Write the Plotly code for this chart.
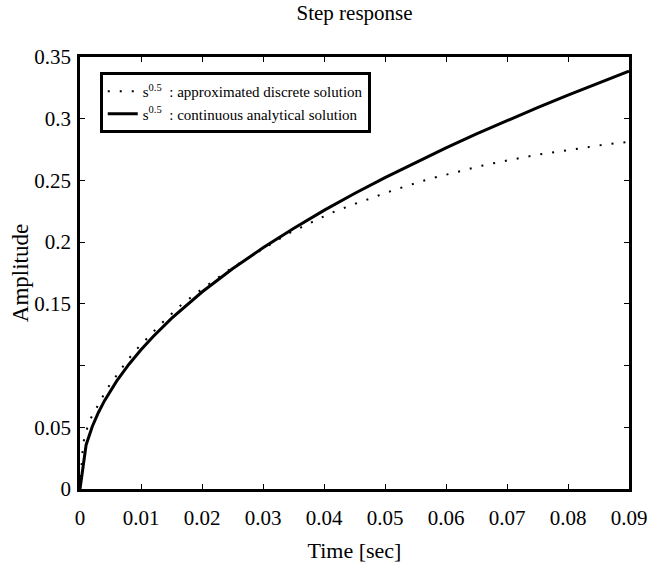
import plotly.graph_objects as go

# Continuous analytical solution
t_cont = [0, 0.001, 0.002, 0.003, 0.004, 0.005, 0.006, 0.008, 0.010, 0.012, 0.015,
          0.020, 0.025, 0.030, 0.035, 0.040, 0.045, 0.050, 0.055, 0.060, 0.065,
          0.070, 0.075, 0.080, 0.085, 0.090]
y_cont = [0, 0.0357, 0.0505, 0.0618, 0.0714, 0.0798, 0.0874, 0.1009, 0.1128, 0.1236, 0.1382,
          0.1596, 0.1784, 0.1954, 0.2111, 0.2257, 0.2394, 0.2523, 0.2646, 0.2764, 0.2877,
          0.2985, 0.3090, 0.3192, 0.3290, 0.3385]

# Approximated discrete solution
t_disc = [0, 0.0005, 0.001, 0.0016, 0.0025, 0.0034, 0.0044, 0.006, 0.0075, 0.0091, 0.0105,
          0.0119, 0.0132, 0.0147, 0.0162, 0.0177, 0.020, 0.025, 0.0322, 0.034, 0.0358,
          0.0375, 0.0393, 0.041, 0.0429, 0.0448, 0.0466, 0.0484, 0.0503, 0.0522, 0.0541,
          0.056, 0.0579, 0.0598, 0.0617, 0.0637, 0.0656, 0.0675, 0.0693, 0.0751, 0.0809,
          0.0868, 0.090]
y_disc = [0, 0.0367, 0.0465, 0.0556, 0.0637, 0.0724, 0.081, 0.092, 0.1025, 0.1123, 0.1196,
          0.1264, 0.1334, 0.1404, 0.1475, 0.1534, 0.1620, 0.1795, 0.2015, 0.2066, 0.2109,
          0.2152, 0.2192, 0.2233, 0.2271, 0.2306, 0.2336, 0.2370, 0.2402, 0.2434, 0.2465,
          0.2493, 0.2520, 0.2545, 0.2569, 0.2593, 0.2616, 0.2636, 0.2655, 0.2709, 0.2755,
          0.2796, 0.2812]

x_ticks = [0, 0.01, 0.02, 0.03, 0.04, 0.05, 0.06, 0.07, 0.08, 0.09]
x_labels = ["0", "0.01", "0.02", "0.03", "0.04", "0.05", "0.06", "0.07", "0.08", "0.09"]
y_ticks = [0, 0.05, 0.1, 0.15, 0.2, 0.25, 0.3, 0.35]
y_labels = ["0", "0.05", "", "0.15", "0.2", "0.25", "0.3", "0.35"]

FONT = "Liberation Serif, Times New Roman, serif"

fig = go.Figure()
fig.add_trace(go.Scatter(
    x=t_disc, y=y_disc, mode="lines",
    line=dict(color="black", width=2, dash="2px,10px"),
    name="s<sup>0.5</sup>  : approximated discrete solution"))
fig.add_trace(go.Scatter(
    x=t_cont, y=y_cont, mode="lines",
    line=dict(color="black", width=3),
    name="s<sup>0.5</sup>  : continuous analytical solution"))

axis_common = dict(showline=True, linecolor="black", linewidth=2.5, mirror="allticks",
                   ticks="inside", ticklen=5, tickwidth=1, tickcolor="black",
                   showgrid=False, zeroline=False,
                   tickfont=dict(family=FONT, size=21, color="black"))

fig.update_xaxes(range=[0, 0.09], tickvals=x_ticks, ticktext=x_labels,
                 title=dict(text="Time [sec]", font=dict(family=FONT, size=22, color="black"),
                            standoff=14),
                 ticklabelstandoff=8, **axis_common)
fig.update_yaxes(range=[0, 0.35], tickvals=y_ticks, ticktext=y_labels,
                 title=dict(text="Amplitude", font=dict(family=FONT, size=23, color="black"),
                            standoff=0),
                 ticklabelstandoff=2, **axis_common)

fig.update_layout(
    width=653, height=573,
    margin=dict(l=80, r=24, t=57, b=84, autoexpand=False),
    paper_bgcolor="white", plot_bgcolor="white",
    title=dict(text="Step response", x=0.543, xanchor="center", y=0.99, yanchor="top",
               font=dict(family=FONT, size=21, color="black")),
    showlegend=True,
    legend=dict(x=0.036, y=0.965, xanchor="left", yanchor="top",
                bordercolor="black", borderwidth=3, bgcolor="white",
                font=dict(family=FONT, size=15, color="black")),
)

fig.write_html("out.html", config={"displayModeBar": False},
               post_script="document.body.style.margin='0px';")
